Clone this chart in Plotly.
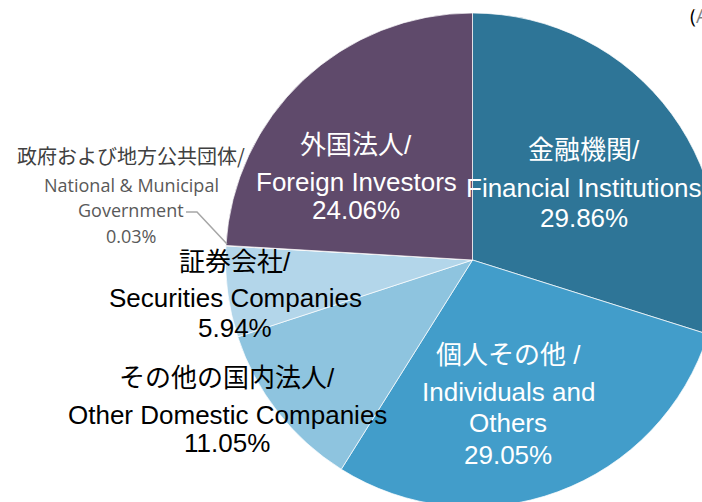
import plotly.graph_objects as go

# ---- data ----
labels_jp = ["金融機関/", "個人その他 /", "その他の国内法人/", "証券会社/", "政府および地方公共団体/", "外国法人/"]
labels_en = ["Financial Institutions", "Individuals and Others", "Other Domestic Companies",
             "Securities Companies", "National & Municipal Government", "Foreign Investors"]
values = [29.86, 29.05, 11.05, 5.94, 0.03, 24.06]
colors = ["#2E7597", "#429DCA", "#8EC4DF", "#B3D6EA", "#A6A6A6", "#5F4A6B"]
note_text = "(As of March 31, 2024)"

W, H = 760, 560
cx, cy, r = 472.5, 260, 247

def fx(x):
    return x / W

def fy(y):
    return 1 - y / H

fig = go.Figure()
fig.add_trace(go.Pie(
    labels=[j + e for j, e in zip(labels_jp, labels_en)],
    values=values,
    sort=False,
    direction="clockwise",
    rotation=0,
    marker=dict(colors=colors, line=dict(color="white", width=0.7)),
    textinfo="none",
    hoverinfo="label+percent",
    showlegend=False,
    domain=dict(x=[fx(cx - r), fx(cx + r)], y=[fy(cy + r), fy(cy - r)]),
))

MAIN_FONT = "Arial, 'Liberation Sans', 'Noto Sans CJK JP', sans-serif"
pct = [f"{v:.2f}%" for v in values]

# line splits for each label (text, color, center x, list of y)
label_lines = [
    ([labels_jp[0], labels_en[0], pct[0]], "white", 584, [150, 188, 218]),
    ([labels_jp[1], "Individuals and", "Others", pct[1]], "white", 508, [355, 392, 423, 455]),
    ([labels_jp[2], labels_en[2], pct[2]], "black", 227, [378, 415, 443]),
    ([labels_jp[3], labels_en[3], pct[3]], "black", 235, [262, 298, 328]),
    ([labels_jp[5], labels_en[5], pct[5]], "white", 356, [145, 182, 210]),
]

annotations = []
for lines, col, x, ys in label_lines:
    for t, y in zip(lines, ys):
        annotations.append(dict(
            x=fx(x), y=fy(y), xref="paper", yref="paper", text=t, showarrow=False,
            xanchor="center", yanchor="middle",
            font=dict(family=MAIN_FONT, size=26, color=col),
        ))

# government label (small, gray)
gov_lines = [
    (labels_jp[4], 155, 20, "#404040", "'Noto Sans CJK JP', sans-serif"),
    ("National & Municipal", 185, 18, "#595959", "'Open Sans', sans-serif"),
    ("Government", 210, 18, "#595959", "'Open Sans', sans-serif"),
    (pct[4], 236, 18, "#595959", "'Open Sans', sans-serif"),
]
for t, y, s, c, f in gov_lines:
    annotations.append(dict(
        x=fx(131), y=fy(y), xref="paper", yref="paper", text=t, showarrow=False,
        xanchor="center", yanchor="middle", font=dict(family=f, size=s, color=c),
    ))

annotations.append(dict(
    x=fx(688), y=fy(15), xref="paper", yref="paper", text=note_text, showarrow=False,
    xanchor="left", yanchor="middle",
    font=dict(family="'Open Sans', sans-serif", size=20, color="black"),
))

leader = f"M {fx(186)},{fy(212)} L {fx(197)},{fy(212)} L {fx(227)},{fy(244)}"
fig.update_layout(
    width=W, height=H,
    margin=dict(l=0, r=0, t=0, b=0),
    paper_bgcolor="white",
    plot_bgcolor="white",
    annotations=annotations,
    shapes=[dict(type="path", path=leader, xref="paper", yref="paper",
                 line=dict(color="#A6A6A6", width=1.5))],
)

fig.write_html(
    "out.html",
    post_script="document.body.style.margin='0';document.body.style.overflow='hidden';"
                "document.documentElement.style.overflow='hidden';",
)
